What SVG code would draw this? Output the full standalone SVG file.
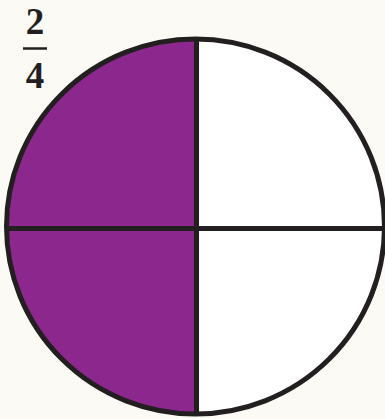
<svg xmlns="http://www.w3.org/2000/svg" width="385" height="419" viewBox="0 0 385 419">
  <style>
    .ln { stroke: #231f20; stroke-width: 5; fill: none; }
    .num { font-family: "Liberation Serif", "Times New Roman", serif; font-weight: bold; font-size: 37px; fill: #231f20; text-anchor: middle; }
  </style>
  <rect width="385" height="419" fill="#fbfaf5"/>
  <g id="circle">
    <path d="M196.5 39 A188 188 0 0 0 196.5 415 Z" fill="#8c278e"/>
    <path d="M196.5 39 A188 188 0 0 1 196.5 415 Z" fill="#ffffff"/>
    <ellipse cx="195.5" cy="226.5" rx="189" ry="187.5" class="ln"/>
  </g>
  <g id="dividers">
    <line x1="196.5" y1="39" x2="196.5" y2="414" class="ln"/>
    <line x1="6" y1="228.5" x2="384" y2="228.5" class="ln"/>
  </g>
  <g id="fraction">
    <text x="35" y="34" class="num">2</text>
    <line x1="23" y1="48.5" x2="47" y2="48.5" stroke="#231f20" stroke-width="2.5"/>
    <text x="35" y="87.5" class="num">4</text>
  </g>
</svg>
